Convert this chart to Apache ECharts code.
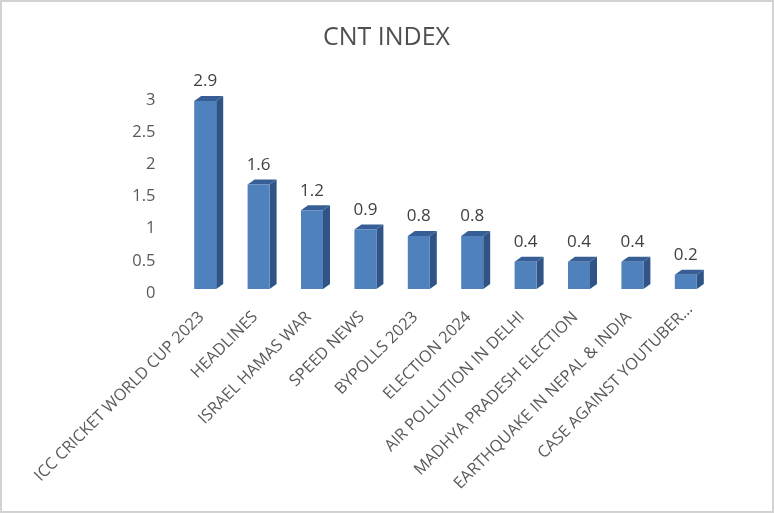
<!DOCTYPE html>
<html><head><meta charset="utf-8">
<style>
html,body{margin:0;padding:0;background:#fff}
#c{position:absolute;left:0;top:0;width:774px;height:513px}
#frame{position:absolute;left:0;top:0;width:770px;height:509px;border:2px solid #d2d2d2;pointer-events:none}
</style>
<script src="https://cdn.jsdelivr.net/npm/echarts@6/dist/echarts.min.js"></script>
</head><body><div id="c"></div><div id="frame"></div>
<script>
const categories = ["ICC CRICKET WORLD CUP 2023","HEADLINES","ISRAEL HAMAS WAR","SPEED NEWS","BYPOLLS 2023","ELECTION 2024","AIR POLLUTION IN DELHI","MADHYA PRADESH ELECTION","EARTHQUAKE IN NEPAL & INDIA","CASE AGAINST YOUTUBER..."];
const cntIndex = [2.9,1.6,1.2,0.9,0.8,0.8,0.4,0.4,0.4,0.2];
const yTicks = {min:0,max:3,interval:0.5};
const FONT = '"Open Sans","Noto Sans",sans-serif';
const chart = echarts.init(document.getElementById('c'),null,{renderer:'canvas'});
function bar3d(params,api){
  const i=api.value(0), v=api.value(1);
  const top=api.coord([i,v]), base=api.coord([i,0]);
  const hw=11, dx=7, dy=5;
  const x0=top[0]-hw, x1=top[0]+hw, yT=top[1]-5.5, yB=base[1]-4;
  return {type:'group',children:[
    {type:'polygon',shape:{points:[[x1,yT],[x1+dx,yT-dy],[x1+dx,yB-dy],[x1,yB]]},style:{fill:'#2f5485'}},
    {type:'polygon',shape:{points:[[x0,yT],[x0+dx,yT-dy],[x1+dx,yT-dy],[x1,yT]]},style:{fill:'#385f95'}},
    {type:'rect',shape:{x:x0,y:yT,width:x1-x0,height:yB-yT},style:{fill:'#4f81bd'}},
    {type:'text',style:{text:String(v),x:top[0],y:yT-dy-6,align:'center',verticalAlign:'bottom',font:'17px '+FONT,fill:'#404040'}}
  ]};
}
chart.setOption({
  animation:false,
  backgroundColor:'#fff',
  title:{text:'CNT INDEX',left:381.5,top:20,textAlign:'center',textStyle:{fontFamily:FONT,fontWeight:'normal',fontSize:25,color:'#505050'}},
  grid:{left:178.5,width:534,top:100,bottom:220,containLabel:false},
  xAxis:{type:'category',
    data:categories.map((c,i)=>i===categories.length-1?{value:c,textStyle:{padding:[0,-6,0,0]}}:c),
    axisLine:{show:false},axisTick:{show:false},splitLine:{show:false},
    axisLabel:{interval:0,rotate:45,margin:18,padding:[0,5,0,0],fontFamily:FONT,fontSize:16.3,color:'#595959'}},
  yAxis:{type:'value',min:yTicks.min,max:yTicks.max,interval:yTicks.interval,axisLine:{show:false},axisTick:{show:false},splitLine:{show:false},
    axisLabel:{margin:23,fontFamily:FONT,fontSize:16.5,color:'#595959',padding:[6,0,0,0]}},
  series:[{name:'CNT INDEX',type:'custom',renderItem:bar3d,encode:{x:0,y:1},data:cntIndex.map((v,i)=>[i,v]),clip:false}]
});
</script></body></html>
